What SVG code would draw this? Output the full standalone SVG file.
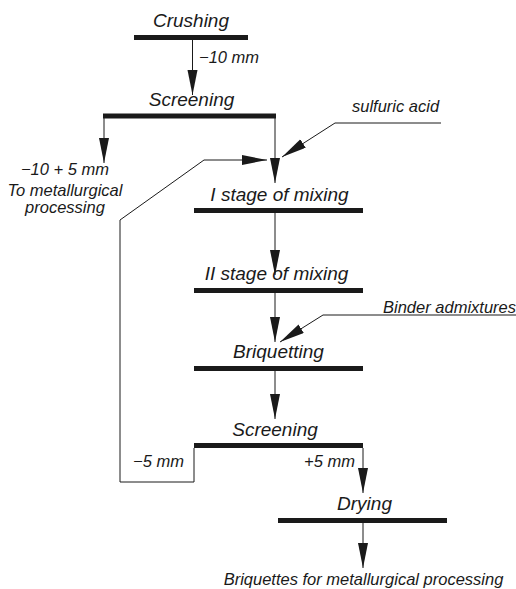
<svg xmlns="http://www.w3.org/2000/svg" width="516" height="589" viewBox="0 0 516 589">
<defs>
<marker id="ah" markerUnits="userSpaceOnUse" markerWidth="26" markerHeight="11" refX="25" refY="5" orient="auto" viewBox="0 0 26 11">
<path d="M0,0 L25,5 L0,10 z" fill="#1a1a1a"/>
</marker>
<style>
text{font-family:"Liberation Sans",Arial,sans-serif;font-style:italic;fill:#1a1a1a}
.t{font-size:19px;text-anchor:middle}
.a{font-size:16.5px}
.bar{stroke:#1a1a1a;stroke-width:5;fill:none}
.ln{stroke:#1a1a1a;stroke-width:1;fill:none}
.ar{marker-end:url(#ah)}
</style>
</defs>
<rect width="516" height="589" fill="#fff"/>
<g id="crushing"><text class="t" x="191" y="27">Crushing</text><line class="bar" x1="134" y1="37.5" x2="248" y2="37.5"/></g>
<g id="screening1"><text class="t" x="191.5" y="106">Screening</text><line class="bar" x1="103" y1="116" x2="276" y2="116"/></g>
<g id="mixing1"><text class="t" x="279.5" y="201">I stage of mixing</text><line class="bar" x1="194" y1="210.5" x2="363" y2="210.5"/></g>
<g id="mixing2"><text class="t" x="276.5" y="280">II stage of mixing</text><line class="bar" x1="194" y1="290.5" x2="363" y2="290.5"/></g>
<g id="briquetting"><text class="t" x="278.5" y="358">Briquetting</text><line class="bar" x1="194" y1="368.5" x2="363" y2="368.5"/></g>
<g id="screening2"><text class="t" x="275" y="436">Screening</text><line class="bar" x1="194" y1="445.5" x2="363" y2="445.5"/></g>
<g id="drying"><text class="t" x="364.5" y="510">Drying</text><line class="bar" x1="278" y1="520.5" x2="447" y2="520.5"/></g>
<g id="labels">
<text class="a" x="199" y="63">−10 mm</text>
<text class="a" x="352" y="112">sulfuric acid</text>
<text class="a" x="65" y="175" text-anchor="middle">−10 + 5 mm</text>
<text class="a" x="65" y="196" text-anchor="middle">To metallurgical</text>
<text class="a" x="65" y="213" text-anchor="middle">processing</text>
<text class="a" x="383" y="313">Binder admixtures</text>
<text class="a" x="133" y="467">−5 mm</text>
<text class="a" x="304" y="467">+5 mm</text>
<text class="a" x="363.5" y="585" text-anchor="middle">Briquettes for metallurgical processing</text>
</g>
<g id="connectors">
<line class="ln ar" x1="192.5" y1="40" x2="192.5" y2="95"/>
<line class="ln ar" x1="104" y1="118" x2="104" y2="163"/>
<line class="ln ar" x1="275" y1="118" x2="275" y2="183"/>
<polyline class="ln ar" points="441,123 335,123 282,157"/>
<polyline class="ln ar" points="194,448 194,482 120,482 120,220 204,160 267,160"/>
<line class="ln ar" x1="275" y1="213" x2="275" y2="275"/>
<line class="ln ar" x1="275" y1="293" x2="275" y2="342"/>
<polyline class="ln ar" points="516,315 323,315 280,342"/>
<line class="ln ar" x1="275" y1="371" x2="275" y2="419"/>
<line class="ln ar" x1="363" y1="448" x2="363" y2="493"/>
<line class="ln ar" x1="363" y1="523" x2="363" y2="568"/>
</g>
</svg>
